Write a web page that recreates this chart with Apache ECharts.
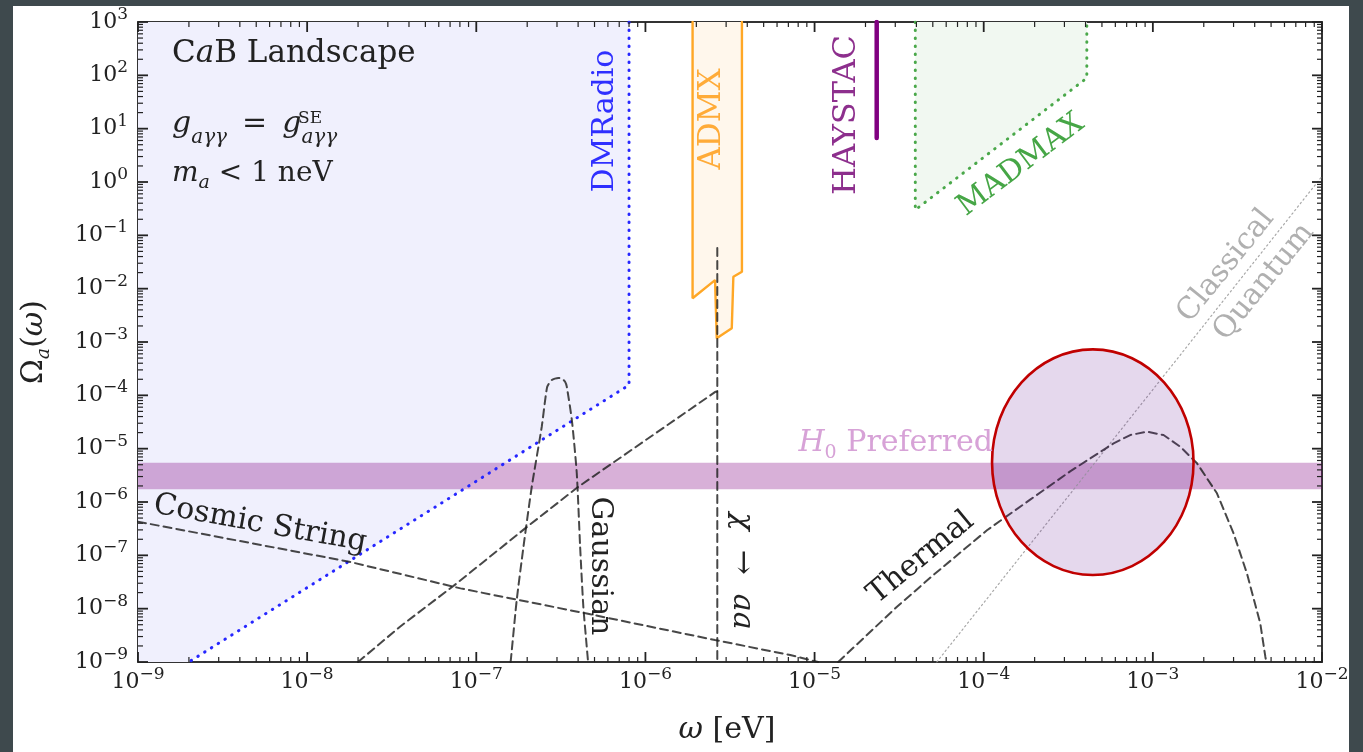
<!DOCTYPE html>
<html><head><meta charset="utf-8">
<script src="https://cdn.jsdelivr.net/npm/echarts@6/dist/echarts.min.js"></script>
<style>
html,body{margin:0;padding:0;background:#3e494d;width:1363px;height:752px;overflow:hidden}
#wrap{position:absolute;left:13px;top:6px;width:1336px;height:746px;background:#fff;overflow:hidden}
#chart{position:absolute;left:-13px;top:-6px;width:1363px;height:752px}
</style></head><body><div id="wrap"><div id="chart"></div></div>
<script>
const FONT = 'DejaVu Serif';

// ---- axes / ticks ----
const xTicks = [1e-9, 1e-8, 1e-7, 1e-6, 1e-5, 1e-4, 1e-3, 1e-2];
const xTickLabels = ['−9', '−8', '−7', '−6', '−5', '−4', '−3', '−2'];
const yTicks = [1e-9, 1e-8, 1e-7, 1e-6, 1e-5, 1e-4, 1e-3, 1e-2, 1e-1, 1e0, 1e1, 1e2, 1e3];
const yTickLabels = ['−9', '−8', '−7', '−6', '−5', '−4', '−3', '−2', '−1', '0', '1', '2', '3'];
const minorMult = [2, 3, 4, 5, 6, 7, 8, 9];

// ---- experiment regions ----
const dmradioX = [8.0e-7, 8.0e-7, 2.0e-9];
const dmradioY = [1e3, 1.56e-4, 1e-9];

const admxX = [1.9e-6, 1.9e-6, 2.58e-6, 2.64e-6, 3.24e-6, 3.31e-6, 3.72e-6, 3.72e-6];
const admxY = [1e3, 6.6e-3, 1.45e-2, 1.17e-3, 1.81e-3, 1.67e-2, 2.08e-2, 1e3];

const haystacX = [2.33e-5, 2.33e-5];
const haystacY = [1e3, 6.7];

const madmaxX = [3.94e-5, 3.94e-5, 4.07e-4, 4.07e-4];
const madmaxY = [1e3, 0.30, 89, 1e3];

const h0Band = [1.73e-6, 5.45e-6];

// ---- spectra ----
const cosmicX = [1e-9, 1.77e-8, 8.07e-8, 4.43e-7, 2.58e-6, 7.18e-6, 1.05e-5];
const cosmicY = [4.27e-7, 7.6e-8, 2.40e-8, 8.17e-9, 2.58e-9, 1.35e-9, 1.0e-9];

const gaussX = [1.596e-7, 1.622e-7, 1.734e-7, 1.901e-7, 2.128e-7, 2.438e-7, 2.624e-7, 2.795e-7, 3.05e-7, 3.2e-7, 3.35e-7, 3.428e-7, 3.673e-7, 3.926e-7, 4.111e-7, 4.295e-7, 4.498e-7, 4.581e-7];
const gaussY = [1e-9, 1.675e-9, 1.452e-8, 1.449e-7, 1.932e-6, 2.576e-5, 1.432e-4, 1.94e-4, 2.12e-4, 2.08e-4, 1.80e-4, 1.452e-4, 3.443e-5, 3.491e-6, 1.449e-7, 1.086e-8, 1.932e-9, 1e-9];

const decayX = [2.0e-8, 3.54e-8, 7.67e-8, 2.0e-7, 4.02e-7, 2.6e-6, 2.66e-6];
const decayY = [1e-9, 4.59e-9, 2.99e-8, 3.44e-7, 1.94e-6, 1.17e-4, 1.17e-4];
const decayLineX = [2.66e-6, 2.66e-6];
const decayLineY = [5.8e-2, 1e-9];

const thermalX = [1.38e-5, 2.0e-5, 3.07e-5, 5.0e-5, 1.045e-4, 1.9e-4, 3.243e-4, 5.861e-4, 7.35e-4, 9.226e-4, 1.156e-3, 1.452e-3, 1.824e-3, 2.393e-3, 2.999e-3, 3.597e-3, 4.315e-3, 4.624e-3, 4.688e-3];
const thermalY = [1e-9, 3.03e-9, 1.086e-8, 4.18e-8, 2.95e-7, 1.13e-6, 3.75e-6, 1.259e-5, 1.80e-5, 2.080e-5, 1.80e-5, 1.089e-5, 5.309e-6, 1.455e-6, 2.588e-7, 4.603e-8, 5.309e-9, 1.256e-9, 1e-9];

const classicalX = [5.28e-5, 1e-2];
const classicalY = [1e-9, 1.28];

// annotation ellipse bounding box (data units)
const ellipseX = [1.12e-4, 1.74e-3];
const ellipseY = [4.28e-8, 7.26e-4];

const pairs = (xs, ys) => xs.map((x, i) => [x, ys[i]]);
const xMin = xTicks[0], xMax = xTicks[xTicks.length - 1];
const yMin = yTicks[0], yMax = yTicks[yTicks.length - 1];
const xMid = 1e-5, yMid = 1e-3;

function lineSeries(xs, ys, color, width, type, z, smooth) {
  return {
    type: 'line', data: pairs(xs, ys), showSymbol: false, symbol: 'none', silent: true,
    smooth: smooth || false, z: z || 4, clip: true,
    lineStyle: { color: color, width: width, type: type, cap: 'round' }
  };
}

function polySeries(xs, ys, fill, z) {
  return {
    type: 'custom', silent: true, z: z, clip: true,
    data: [[xs[0], ys[0]]],
    renderItem: function (params, api) {
      const pts = xs.map((x, i) => api.coord([x, ys[i]]));
      return { type: 'polygon', shape: { points: pts }, style: { fill: fill } };
    }
  };
}

// tick items: [x, y, side(0 bottom,1 top,2 left,3 right), major(1/0)]
const tickItems = [];
xTicks.forEach((v, i) => {
  tickItems.push([v, yMid, 0, 1], [v, yMid, 1, 1]);
  if (i < xTicks.length - 1) minorMult.forEach(m => tickItems.push([v * m, yMid, 0, 0], [v * m, yMid, 1, 0]));
});
yTicks.forEach((v, i) => {
  tickItems.push([xMid, v, 2, 1], [xMid, v, 3, 1]);
  if (i < yTicks.length - 1) minorMult.forEach(m => tickItems.push([xMid, v * m, 2, 0], [xMid, v * m, 3, 0]));
});

const tickMarkSeries = {
  type: 'custom', silent: true, z: 8, clip: false,
  dimensions: ['x', 'y', 'side', 'major'],
  encode: { x: 0, y: 1 },
  data: tickItems,
  renderItem: function (params, api) {
    const side = api.value(2), major = api.value(3);
    const len = major ? 10 : 5, w = major ? 1.8 : 1.2;
    const bl = api.coord([xMin, yMin]), tr = api.coord([xMax, yMax]);
    if (side < 2) {
      const px = api.coord([api.value(0), yMin])[0];
      const y = side === 0 ? bl[1] - len : tr[1];
      return { type: 'rect', shape: { x: px - w / 2, y: y, width: w, height: len }, style: { fill: '#222' } };
    }
    const py = api.coord([xMin, api.value(1)])[1];
    const x = side === 2 ? bl[0] : tr[0] - len;
    return { type: 'rect', shape: { x: x, y: py - w / 2, width: len, height: w }, style: { fill: '#222' } };
  }
};

const tickLabelSeries = {
  type: 'custom', silent: true, z: 8, clip: false,
  data: [[xMid, yMid]],
  renderItem: function (params, api) {
    const ch = [];
    const bl = api.coord([xMin, yMin]);
    const L = bl[0], B = bl[1];
    const rich = {
      b: { fontFamily: FONT, fontSize: 22, lineHeight: 32, fill: '#222', color: '#222' },
      s: { fontFamily: FONT, fontSize: 17, lineHeight: 17, verticalAlign: 'top', fill: '#222', color: '#222' }
    };
    xTicks.forEach((v, i) => {
      const px = api.coord([v, yMin])[0];
      ch.push({ type: 'text', x: px, y: B + 4, style: { text: '{b|10}{s|' + xTickLabels[i] + '}', rich: rich, align: 'center', verticalAlign: 'top' } });
    });
    yTicks.forEach((v, i) => {
      const py = api.coord([xMin, v])[1];
      ch.push({ type: 'text', x: L - 10, y: py, style: { text: '{b|10}{s|' + yTickLabels[i] + '}', rich: rich, align: 'right', verticalAlign: 'middle' } });
    });
    return { type: 'group', children: ch };
  }
};

const ellipseSeries = {
  type: 'custom', silent: true, z: 7, clip: false,
  data: [[ellipseX[0], ellipseY[0]]],
  renderItem: function (params, api) {
    const a = api.coord([ellipseX[0], ellipseY[0]]);
    const b = api.coord([ellipseX[1], ellipseY[1]]);
    const cx = (a[0] + b[0]) / 2, cy = (a[1] + b[1]) / 2;
    const rx = Math.abs(b[0] - a[0]) / 2, ry = Math.abs(b[1] - a[1]) / 2;
    const k = 0.5522847498;
    const d = 'M ' + (cx - rx) + ' ' + cy +
      ' C ' + (cx - rx) + ' ' + (cy - k * ry) + ' ' + (cx - k * rx) + ' ' + (cy - ry) + ' ' + cx + ' ' + (cy - ry) +
      ' C ' + (cx + k * rx) + ' ' + (cy - ry) + ' ' + (cx + rx) + ' ' + (cy - k * ry) + ' ' + (cx + rx) + ' ' + cy +
      ' C ' + (cx + rx) + ' ' + (cy + k * ry) + ' ' + (cx + k * rx) + ' ' + (cy + ry) + ' ' + cx + ' ' + (cy + ry) +
      ' C ' + (cx - k * rx) + ' ' + (cy + ry) + ' ' + (cx - rx) + ' ' + (cy + k * ry) + ' ' + (cx - rx) + ' ' + cy + ' Z';
    return { type: 'path', shape: { pathData: d }, style: { fill: 'rgba(106,32,152,0.175)', stroke: '#c00000', lineWidth: 2.6 } };
  }
};

const DASH = [8, 5];
const DARK = 'rgba(30,30,30,0.82)';

function txt(x, y, text, opts) {
  opts = opts || {};
  return {
    type: 'text', x: x, y: y, rotation: opts.rot || 0, z: 100,
    style: {
      text: text, rich: opts.rich, fontFamily: FONT, fontSize: opts.size || 30,
      fontStyle: opts.italic ? 'italic' : 'normal', fill: opts.color || '#222',
      align: opts.align || 'center', verticalAlign: opts.va || 'middle'
    }
  };
}
const mk = (size, color, extra) => Object.assign({ fontFamily: FONT, fontSize: size, fill: color, color: color }, extra || {});

const axisCommon = {
  type: 'log', logBase: 10,
  axisLine: { show: true, onZero: false, lineStyle: { color: '#333', width: 2 } },
  axisTick: { show: false }, axisLabel: { show: false }, splitLine: { show: false }
};

const option = {
  animation: false,
  backgroundColor: 'transparent',
  grid: { left: 138, top: 22, width: 1184, height: 640, show: false },
  xAxis: [
    Object.assign({}, axisCommon, { min: xMin, max: xMax, position: 'bottom' }),
    Object.assign({}, axisCommon, { min: xMin, max: xMax, position: 'top' })
  ],
  yAxis: [
    Object.assign({}, axisCommon, { min: yMin, max: yMax, position: 'left' }),
    Object.assign({}, axisCommon, { min: yMin, max: yMax, position: 'right' })
  ],
  series: [
    polySeries(dmradioX.concat([xMin, xMin]), dmradioY.concat([yMin, yMax]), '#f0f0fd', 1),
    polySeries(admxX, admxY, '#fff7ec', 1),
    polySeries(madmaxX, madmaxY, '#f1f8f1', 1),
    polySeries([xMin, xMax, xMax, xMin], [h0Band[0], h0Band[0], h0Band[1], h0Band[1]], 'rgba(128,0,128,0.31)', 2),
    lineSeries(dmradioX, dmradioY, '#2626ff', 3, [0.5, 7.5], 4),
    lineSeries(admxX, admxY, '#ffa726', 2.4, 'solid', 4),
    lineSeries(madmaxX, madmaxY, '#4aa84a', 3, [0.5, 7.5], 4),
    lineSeries(haystacX, haystacY, '#800080', 4.5, 'solid', 4),
    lineSeries(classicalX, classicalY, '#a8a8a8', 1.2, [1.5, 3], 4),
    lineSeries(cosmicX, cosmicY, DARK, 2, DASH, 5),
    lineSeries(gaussX, gaussY, DARK, 2, DASH, 5, 0.2),
    lineSeries(decayX, decayY, DARK, 2, DASH, 5),
    lineSeries(decayLineX, decayLineY, DARK, 2, DASH, 5),
    lineSeries(thermalX, thermalY, DARK, 2, DASH, 5),
    ellipseSeries,
    tickMarkSeries,
    tickLabelSeries
  ],
  graphic: { elements: [
    // top-left text block
    txt(172, 54, '{r|C}{i|a}{r|B Landscape}', { align: 'left', rich: {
      r: mk(31, '#222'), i: mk(31, '#222', { fontStyle: 'italic' }) } }),
    txt(172, 124, '{i|g}{sub|aγγ}{r|\u2002=\u2002}{i|g}{sub|aγγ}', { align: 'left', rich: {
      r: mk(30, '#222', { lineHeight: 48 }), i: mk(30, '#222', { fontStyle: 'italic', lineHeight: 48 }),
      sub: mk(20, '#222', { fontStyle: 'italic', lineHeight: 20, verticalAlign: 'bottom' }) } }),
    txt(298, 119, 'SE', { align: 'left', size: 17 }),
    txt(172, 174, '{i|m}{sub|a}{r| < 1 neV}', { align: 'left', rich: {
      r: mk(28, '#222', { lineHeight: 38 }), i: mk(28, '#222', { fontStyle: 'italic', lineHeight: 38 }),
      sub: mk(19, '#222', { fontStyle: 'italic', lineHeight: 19, verticalAlign: 'bottom' }) } }),
    // experiment labels
    txt(605, 121, 'DMRadio', { rot: Math.PI / 2, color: '#2f2fff' }),
    txt(712, 119, 'ADMX', { rot: Math.PI / 2, color: '#ffab38', size: 31 }),
    txt(847, 115, 'HAYSTAC', { rot: Math.PI / 2, color: '#8d2f8d', size: 32 }),
    txt(1021, 165, 'MADMAX', { rot: 0.646, color: '#46a646' }),
    txt(1226, 266, 'Classical', { rot: 0.89, color: '#b0b0b0' }),
    txt(1264, 282, 'Quantum', { rot: 0.89, color: '#b0b0b0' }),
    txt(993, 443, '{i|H}{sub|0}{r| Preferred}', { align: 'right', rich: {
      r: mk(30, '#d7a2d7', { lineHeight: 40 }), i: mk(30, '#d7a2d7', { fontStyle: 'italic', lineHeight: 40 }),
      sub: mk(19, '#d7a2d7', { lineHeight: 19, verticalAlign: 'bottom' }) } }),
    // spectrum labels
    txt(260, 524, 'Cosmic String', { rot: -0.18 }),
    txt(600, 566, 'Gaussian', { rot: -Math.PI / 2 }),
    txt(742, 571, '{i|χ}{r|  →  }{i|aa}', { rot: -Math.PI / 2, rich: {
      r: mk(30, '#222'), i: mk(30, '#222', { fontStyle: 'italic' }) } }),
    txt(921, 558, 'Thermal', { rot: 0.69 }),
    // axis titles
    txt(727, 730, '{i|ω}{r| [eV]}', { rich: { r: mk(30, '#222'), i: mk(30, '#222', { fontStyle: 'italic' }) } }),
    txt(34, 342, '{r|Ω}{sub|a}{r|(}{i|ω}{r|)}', { rot: Math.PI / 2, rich: {
      r: mk(30, '#222', { lineHeight: 40 }), i: mk(30, '#222', { fontStyle: 'italic', lineHeight: 40 }),
      sub: mk(19, '#222', { fontStyle: 'italic', lineHeight: 19, verticalAlign: 'bottom' }) } })
  ] }
};

const chart = echarts.init(document.getElementById('chart'), null, { renderer: 'canvas', width: 1363, height: 752 });
chart.setOption(option);
</script></body></html>
